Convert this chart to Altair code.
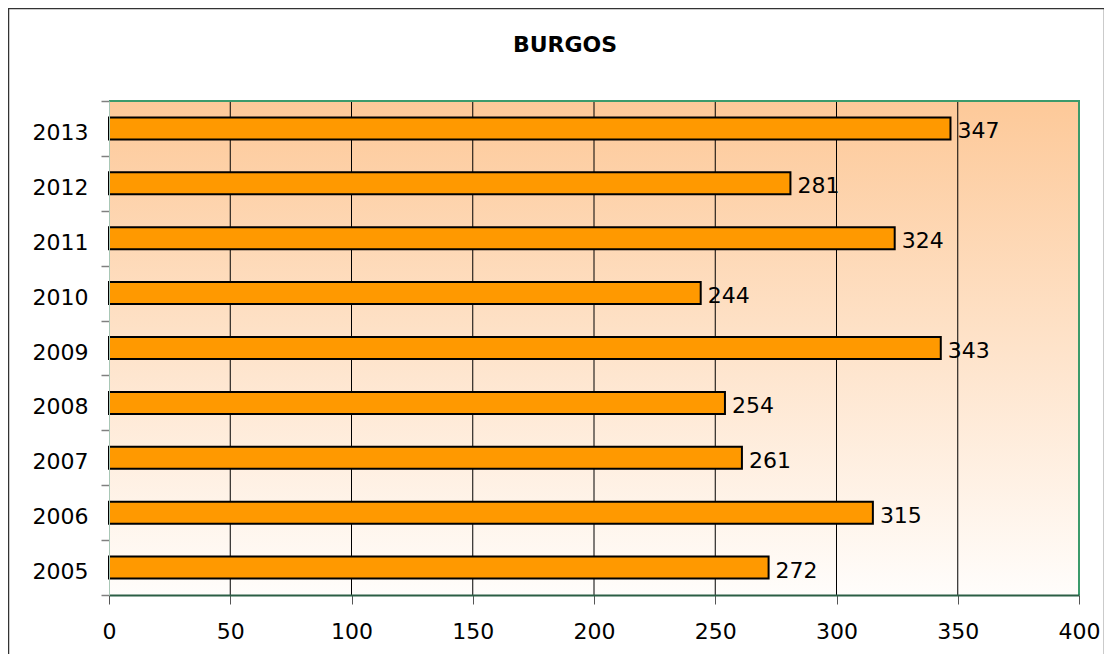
import altair as alt
import pandas as pd

years = ["2013", "2012", "2011", "2010", "2009", "2008", "2007", "2006", "2005"]
values = [347, 281, 324, 244, 343, 254, 261, 315, 272]
x_ticks = [0, 50, 100, 150, 200, 250, 300, 350, 400]
grid_values = [50, 100, 150, 200, 250, 300, 350]
title_text = "BURGOS"

df = pd.DataFrame({"year": years, "value": values})
grid_df = pd.DataFrame({"g": grid_values})
one_df = pd.DataFrame({"t": [title_text]})

FONT = "DejaVu Sans"
FS = 22
W, H = 970, 494

x_scale = alt.Scale(domain=[0, 400], nice=False, zero=True)
y_scale = alt.Scale(domain=years, paddingInner=0, paddingOuter=0)

x_axis = alt.Axis(
    values=x_ticks,
    title=None,
    grid=False,
    tickSize=9,
    tickColor="#555555",
    tickWidth=1,
    domainColor="#2B5E45",
    domainWidth=2,
    labelFont=FONT,
    labelFontSize=FS,
    labelColor="#000000",
    labelPadding=17,
    labelFlush=False,
    zindex=1,
)
y_axis = alt.Axis(
    title=None,
    tickBand="extent",
    tickSize=8,
    tickColor="#808080",
    tickWidth=1.5,
    domainColor="#A9C7B6",
    domainWidth=1,
    labelFont=FONT,
    labelFontSize=FS,
    labelColor="#000000",
    labelPadding=13,
    labelOffset=4,
    zindex=1,
)

background = alt.Chart(one_df).mark_rect(
    color=alt.Gradient(
        gradient="linear",
        x1=0, y1=0, x2=0, y2=1,
        stops=[
            alt.GradientStop(offset=0, color="#FDC999"),
            alt.GradientStop(offset=1, color="#FFFDFB"),
        ],
    )
).encode(x=alt.value(0), x2=alt.value(W), y=alt.value(0), y2=alt.value(H))

grid = alt.Chart(grid_df).mark_rule(color="#000000", strokeWidth=1).encode(
    x=alt.X("g:Q", scale=x_scale, axis=x_axis),
)

border_top = alt.Chart(one_df).mark_rule(color="#3C9A6B", strokeWidth=2).encode(
    x=alt.value(0), x2=alt.value(W + 1), y=alt.value(0)
)
border_right = alt.Chart(one_df).mark_rule(color="#3C9A6B", strokeWidth=2).encode(
    x=alt.value(W), y=alt.value(0), y2=alt.value(H)
)

bars = alt.Chart(df).mark_bar(
    size=22, color="#FF9900", stroke="#000000", strokeWidth=2
).encode(
    x=alt.X("value:Q", scale=x_scale, axis=x_axis),
    y=alt.Y("year:N", scale=y_scale, sort=years, axis=y_axis),
)

labels = alt.Chart(df).mark_text(
    align="left", baseline="middle", dx=7, dy=3, font=FONT, fontSize=FS, color="#000000"
).encode(
    x=alt.X("value:Q", scale=x_scale, axis=x_axis),
    y=alt.Y("year:N", scale=y_scale, sort=years, axis=y_axis),
    text=alt.Text("value:Q"),
)

title = alt.Chart(one_df).mark_text(
    align="center", baseline="middle", font=FONT, fontSize=22, fontWeight="bold",
    color="#000000"
).encode(x=alt.value(456), y=alt.value(-56), text="t:N")

frame = alt.Chart(one_df).mark_rect(
    fill=None, stroke="#333333", strokeWidth=1.5
).encode(
    x=alt.value(-100.5), x2=alt.value(995.5), y=alt.value(-92.5), y2=alt.value(600)
)

chart = alt.layer(
    background, grid, border_top, border_right, bars, labels, title, frame
).properties(
    width=W,
    height=H,
    autosize=alt.AutoSizeParams(type="none"),
    padding={"left": 101, "top": 93, "right": 25, "bottom": 59},
).configure_view(
    stroke=None,
).configure(background="#FFFFFF")

chart.save("out.html", embed_options={"renderer": "svg", "actions": False})
